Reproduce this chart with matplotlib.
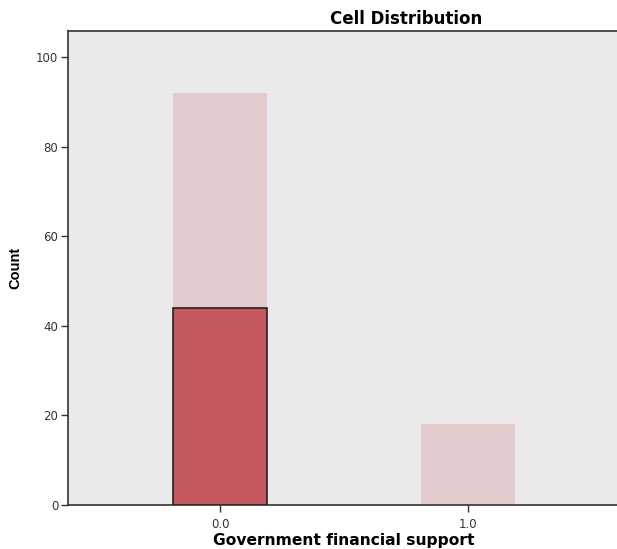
import matplotlib
matplotlib.use("Agg")
import matplotlib.pyplot as plt

# data
categories = [0.0, 1.0]
tick_labels = ["0.0", "1.0"]
total_counts = [92, 18]
cell_counts = [44, 0]

plt.rcParams['font.family'] = ['DejaVu Sans']

fig = plt.figure(figsize=(6.17, 5.49), dpi=100)
ax = fig.add_axes([68/617, 44/549, 1 - 68/617, (505-31)/549])
ax.set_facecolor("#EAEAEA")

ax.bar(categories, total_counts, width=0.38, color="#E1CBCD", edgecolor="none", zorder=2)
for x, c in zip(categories, cell_counts):
    if c > 0:
        ax.bar(x, c, width=0.38, color="#C4585E", edgecolor="#222222", linewidth=1.2, zorder=3)

ax.set_xlim(-0.613, 1.60)
ax.set_ylim(0, 105.8)
ax.set_xticks(categories)
ax.set_xticklabels(tick_labels)
ax.set_yticks([0, 20, 40, 60, 80, 100])
ax.tick_params(axis="both", direction="out", length=5, width=1, labelsize=8.5, colors="#333333", pad=2)
ax.tick_params(axis="x", pad=4)

for s in ["left", "bottom", "top"]:
    ax.spines[s].set_color("#333333")
    ax.spines[s].set_linewidth(1.2)
ax.spines["right"].set_visible(False)

fig.text(344/617, 1 - 541/549, "Government financial support", ha="center", va="center",
         fontsize=11.2, fontweight="bold")
fig.text(15/617, 1 - 268/549, "Count", ha="center", va="center", rotation=90,
         fontsize=10.5, fontweight="bold", family=["Liberation Sans", "DejaVu Sans"])
fig.text(406/617, 1 - 19/549, "Cell Distribution", ha="center", va="center",
         fontsize=12, fontweight="bold")

plt.savefig("out.png", dpi=100)
